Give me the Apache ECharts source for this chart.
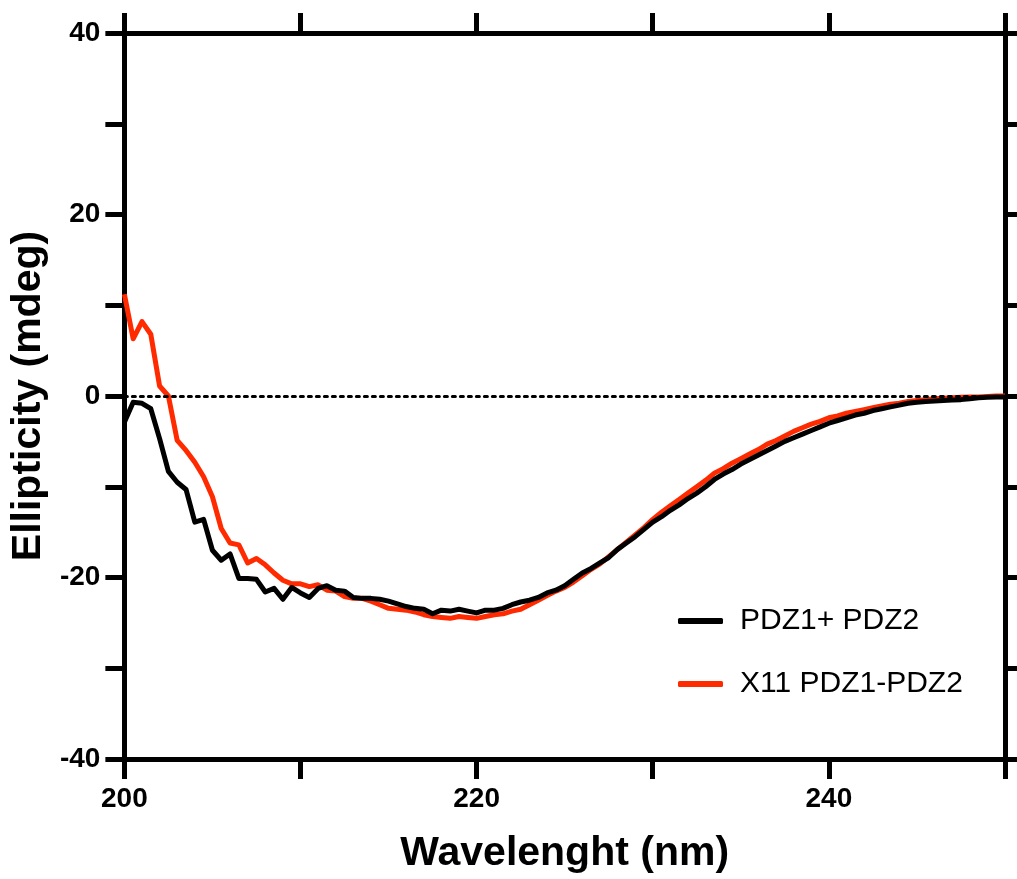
<!DOCTYPE html>
<html>
<head>
<meta charset="utf-8">
<title>CD spectra</title>
<script src="https://cdn.jsdelivr.net/npm/echarts@6/dist/echarts.min.js"></script>
<style>
  html, body { margin: 0; padding: 0; background: #fff; }
  #chart { width: 1017px; height: 879px; }
</style>
</head>
<body>
<div id="chart"></div>
<script>
// wavelength (nm), 0.5 nm steps
var wavelength = [
  200, 200.5, 201, 201.5, 202, 202.5, 203, 203.5, 204, 204.5,
  205, 205.5, 206, 206.5, 207, 207.5, 208, 208.5, 209, 209.5,
  210, 210.5, 211, 211.5, 212, 212.5, 213, 213.5, 214, 214.5,
  215, 215.5, 216, 216.5, 217, 217.5, 218, 218.5, 219, 219.5,
  220, 220.5, 221, 221.5, 222, 222.5, 223, 223.5, 224, 224.5,
  225, 225.5, 226, 226.5, 227, 227.5, 228, 228.5, 229, 229.5,
  230, 230.5, 231, 231.5, 232, 232.5, 233, 233.5, 234, 234.5,
  235, 235.5, 236, 236.5, 237, 237.5, 238, 238.5, 239, 239.5,
  240, 240.5, 241, 241.5, 242, 242.5, 243, 243.5, 244, 244.5,
  245, 245.5, 246, 246.5, 247, 247.5, 248, 248.5, 249, 249.5,
  250
];

// PDZ1+ PDZ2 (black)
var pdzMix = [
  -2.9, -0.7, -0.8, -1.4, -4.7, -8.3, -9.5, -10.3, -13.9, -13.6,
  -17.0, -18.1, -17.4, -20.1, -20.1, -20.2, -21.6, -21.2, -22.4, -21.1,
  -21.7, -22.2, -21.2, -20.9, -21.4, -21.5, -22.2, -22.3, -22.3, -22.4,
  -22.6, -22.9, -23.2, -23.4, -23.5, -24.0, -23.6, -23.7, -23.5, -23.7,
  -23.9, -23.6, -23.6, -23.4, -23.0, -22.7, -22.5, -22.2, -21.7, -21.4,
  -20.9, -20.2, -19.5, -19.0, -18.4, -17.8, -16.9, -16.2, -15.5, -14.7,
  -13.9, -13.3, -12.6, -12.0, -11.3, -10.7, -10.0, -9.2, -8.6, -8.1,
  -7.5, -7.0, -6.5, -6.0, -5.5, -5.0, -4.6, -4.2, -3.8, -3.4,
  -3.0, -2.7, -2.4, -2.1, -1.9, -1.6, -1.4, -1.2, -1.0, -0.8,
  -0.7, -0.6, -0.55, -0.5, -0.45, -0.4, -0.3, -0.2, -0.15, -0.1,
  -0.1
];

// X11 PDZ1-PDZ2 (red)
var x11Tandem = [
  11.2, 6.3, 8.2, 6.8, 1.1, 0.0, -4.9, -6.0, -7.3, -8.9,
  -11.1, -14.6, -16.2, -16.4, -18.4, -17.9, -18.6, -19.5, -20.3, -20.7,
  -20.7, -21.0, -20.8, -21.4, -21.5, -22.1, -22.3, -22.3, -22.6, -23.0,
  -23.4, -23.5, -23.6, -23.8, -24.1, -24.3, -24.4, -24.5, -24.3, -24.4,
  -24.5, -24.3, -24.1, -24.0, -23.7, -23.5, -23.0, -22.5, -22.0, -21.5,
  -21.1, -20.5, -19.8, -19.1, -18.5, -17.7, -16.9, -16.1, -15.3, -14.5,
  -13.6, -12.8, -12.1, -11.4, -10.7, -10.0, -9.3, -8.5, -8.0, -7.4,
  -6.9, -6.4, -5.9, -5.3, -4.9, -4.4, -3.9, -3.5, -3.1, -2.8,
  -2.4, -2.2, -1.9, -1.7, -1.5, -1.3, -1.1, -0.9, -0.8, -0.6,
  -0.5, -0.4, -0.3, -0.25, -0.2, -0.15, -0.1, -0.1, -0.05, 0.0,
  0.0
];

var seriesNames = ['PDZ1+ PDZ2', 'X11 PDZ1-PDZ2'];
var seriesColors = ['#000000', '#ff2a00'];

var xTickLabels = [200, 220, 240];
var yTickLabels = [-40, -20, 0, 20, 40];

var FONT = "'Liberation Sans', Arial, Helvetica, sans-serif";

function pairs(xs, ys) {
  var out = [];
  for (var i = 0; i < xs.length; i++) {
    out.push([xs[i], ys[i]]);
  }
  return out;
}

var chart = echarts.init(document.getElementById('chart'), null, { renderer: 'canvas' });

var axisLineStyle = { color: '#000', width: 5 };
var tickStyle = { color: '#000', width: 5 };

var option = {
  backgroundColor: '#fff',
  animation: false,
  grid: {
    left: 122,
    right: 12,
    top: 33,
    bottom: 117,
    containLabel: false
  },
  legend: {
    orient: 'vertical',
    left: 673,
    top: 601,
    itemGap: 33,
    itemWidth: 45,
    itemHeight: 6,
    icon: 'roundRect',
    data: seriesNames,
    textStyle: {
      fontFamily: FONT,
      fontSize: 30,
      color: '#000',
      padding: [0, 0, 0, 12]
    }
  },
  xAxis: [{
    type: 'value',
    position: 'bottom',
    min: 200,
    max: 250,
    interval: 10,
    name: 'Wavelenght (nm)',
    nameLocation: 'middle',
    nameGap: 74,
    nameTextStyle: {
      fontFamily: FONT,
      fontWeight: 'bold',
      fontSize: 41,
      color: '#000'
    },
    axisLine: { show: true, onZero: false, lineStyle: axisLineStyle },
    axisTick: { show: true, length: 20, lineStyle: tickStyle },
    axisLabel: {
      margin: 26,
      fontFamily: FONT,
      fontWeight: 'bold',
      fontSize: 28,
      color: '#000',
      formatter: function (v) {
        return xTickLabels.indexOf(v) >= 0 ? String(v) : '';
      }
    },
    splitLine: { show: false }
  }, {
    type: 'value',
    position: 'top',
    min: 200,
    max: 250,
    interval: 10,
    axisLine: { show: true, onZero: false, lineStyle: axisLineStyle },
    axisTick: { show: true, length: 20, lineStyle: tickStyle },
    axisLabel: { show: false },
    splitLine: { show: false }
  }],
  yAxis: [{
    type: 'value',
    position: 'left',
    min: -40,
    max: 40,
    interval: 10,
    name: 'Ellipticity (mdeg)',
    nameLocation: 'middle',
    nameGap: 60,
    nameTextStyle: {
      fontFamily: FONT,
      fontWeight: 'bold',
      fontSize: 41,
      color: '#000'
    },
    axisLine: { show: true, onZero: false, lineStyle: axisLineStyle },
    axisTick: { show: true, length: 19, lineStyle: tickStyle },
    axisLabel: {
      margin: 24,
      fontFamily: FONT,
      fontWeight: 'bold',
      fontSize: 28,
      color: '#000',
      formatter: function (v) {
        return yTickLabels.indexOf(v) >= 0 ? String(v) : '';
      }
    },
    splitLine: { show: false }
  }, {
    type: 'value',
    position: 'right',
    min: -40,
    max: 40,
    interval: 10,
    axisLine: { show: true, onZero: false, lineStyle: axisLineStyle },
    axisTick: { show: true, length: 19, lineStyle: tickStyle },
    axisLabel: { show: false },
    splitLine: { show: false }
  }],
  series: [{
    // red drawn first so the black trace sits on top
    name: seriesNames[1],
    type: 'line',
    xAxisIndex: 0,
    yAxisIndex: 0,
    data: pairs(wavelength, x11Tandem),
    showSymbol: false,
    symbol: 'none',
    color: seriesColors[1],
    lineStyle: { color: seriesColors[1], width: 5, join: 'round' },
    markLine: {
      silent: true,
      symbol: ['none', 'none'],
      label: { show: false },
      lineStyle: { color: '#000', width: 3, type: [3, 5], cap: 'round' },
      data: [{ yAxis: 0 }]
    },
    z: 2
  }, {
    name: seriesNames[0],
    type: 'line',
    xAxisIndex: 0,
    yAxisIndex: 0,
    data: pairs(wavelength, pdzMix),
    showSymbol: false,
    symbol: 'none',
    color: seriesColors[0],
    lineStyle: { color: seriesColors[0], width: 5, join: 'round' },
    z: 3
  }]
};

chart.setOption(option);
</script>
</body>
</html>
